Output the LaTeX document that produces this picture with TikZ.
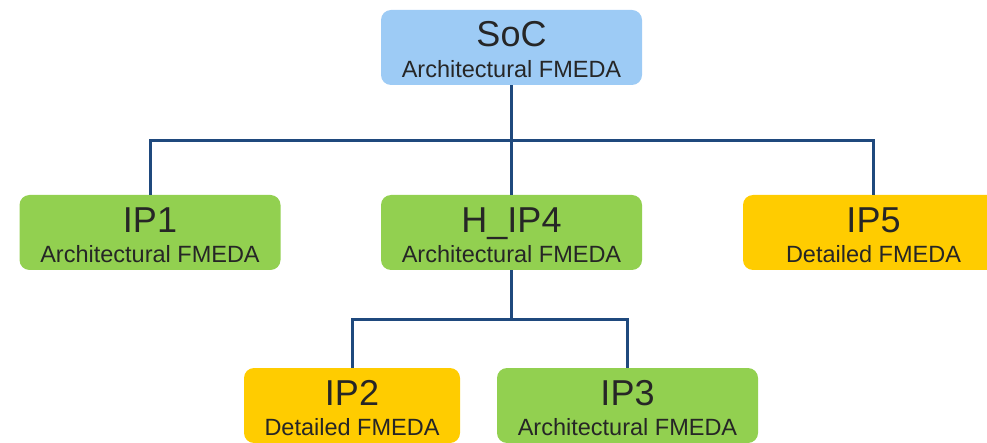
\documentclass[tikz,border=0pt]{standalone}
\usepackage{fontspec}
\setmainfont{Liberation Sans}
\usetikzlibrary{calc}
\definecolor{socblue}{HTML}{9DCBF5}
\definecolor{ipgreen}{HTML}{92D050}
\definecolor{ipyellow}{HTML}{FFCC00}
\definecolor{wire}{HTML}{1F497D}
\definecolor{txt}{HTML}{262626}
\tikzset{
  box/.style={rectangle, rounded corners=10pt, draw=none, minimum height=75pt, inner sep=0pt},
  wide/.style={box, minimum width=261pt},
  narrow/.style={box, minimum width=216pt},
  title/.style={anchor=base, inner sep=0pt, text=txt, font=\fontsize{36}{36}\selectfont},
  sub/.style={anchor=base, inner sep=0pt, text=txt, font=\fontsize{23.5}{24}\selectfont},
  conn/.style={draw=wire, line width=3pt}
}
\begin{document}
\begin{tikzpicture}[x=1pt,y=-1pt]
\useasboundingbox (0,0) rectangle (987,443);
\clip (0,0) rectangle (987,443);
% boxes
\node[wide, fill=socblue] (soc) at (511.5,47.5) {};
\node[wide, fill=ipgreen] (ip1) at (150,232.5) {};
\node[wide, fill=ipgreen] (h4) at (511.5,232.5) {};
\node[wide, fill=ipyellow] (ip5) at (873.5,232.5) {};
\node[narrow, fill=ipyellow] (ip2) at (352,405.5) {};
\node[wide, fill=ipgreen] (ip3) at (627.5,405.5) {};
% bus coordinates
\coordinate (bus1) at (511.5,141);
\coordinate (bus2) at (511.5,320);
% connectors
\draw[conn] (soc.south) -- (h4.north);
\draw[conn] (ip1.north) |- (bus1) -| (ip5.north);
\draw[conn] (h4.south) -- (bus2);
\draw[conn] (ip2.north) |- (bus2) -| (ip3.north);
% texts
\node[title] (soct) at ($(soc.north)+(0,37)$) {SoC};
\node[sub] (socs) at ($(soc.north)+(0,68)$) {Architectural FMEDA};
\node[title] (ip1t) at ($(ip1.north)+(0,38)$) {IP1};
\node[sub] (ip1s) at ($(ip1.north)+(0,68)$) {Architectural FMEDA};
\node[title] (h4t) at ($(h4.north)+(0,38)$) {H\_IP4};
\node[sub] (h4s) at ($(h4.north)+(0,68)$) {Architectural FMEDA};
\node[title] (ip5t) at ($(ip5.north)+(0,38)$) {IP5};
\node[sub] (ip5s) at ($(ip5.north)+(0,68)$) {Detailed FMEDA};
\node[title] (ip2t) at ($(ip2.north)+(0,38)$) {IP2};
\node[sub] (ip2s) at ($(ip2.north)+(0,68)$) {Detailed FMEDA};
\node[title] (ip3t) at ($(ip3.north)+(0,38)$) {IP3};
\node[sub] (ip3s) at ($(ip3.north)+(0,68)$) {Architectural FMEDA};
\end{tikzpicture}
\end{document}
